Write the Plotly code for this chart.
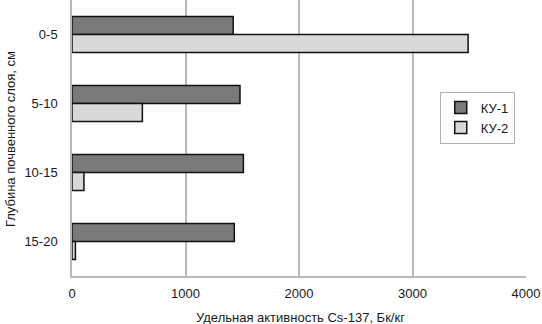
import plotly.graph_objects as go

depths = ["0-5", "5-10", "10-15", "15-20"]
ku1 = [1420, 1480, 1510, 1430]
ku2 = [3490, 620, 105, 30]
series_names = ["КУ-1", "КУ-2"]
x_ticks = [0, 1000, 2000, 3000, 4000]
x_title = "Удельная активность Cs-137, Бк/кг"
y_title = "Глубина почвенного слоя, см"

fig = go.Figure()
fig.add_trace(go.Bar(y=depths, x=ku1, name=series_names[0], orientation="h",
                     marker=dict(color="#7a7a7a", line=dict(color="#111111", width=1.5))))
fig.add_trace(go.Bar(y=depths, x=ku2, name=series_names[1], orientation="h",
                     marker=dict(color="#d9d9d9", line=dict(color="#111111", width=1.5))))

font = "Liberation Sans, Arial, sans-serif"
fig.update_layout(
    width=542, height=324,
    margin=dict(l=72, r=16, t=0, b=48, autoexpand=False),
    paper_bgcolor="white", plot_bgcolor="white",
    barmode="group", bargap=0.48, bargroupgap=0,
    font=dict(family=font, size=13, color="#1a1a1a"),
    legend=dict(x=0.81, y=0.668, xanchor="left", yanchor="top",
                bordercolor="#b0b0b0", borderwidth=1, bgcolor="white",
                traceorder="normal", font=dict(size=13, color="#1a1a1a"),
                itemwidth=30, tracegroupgap=0),
    showlegend=True,
    annotations=[
        dict(text=x_title, xref="paper", yref="paper", x=0.504, y=-0.152,
             xanchor="center", yanchor="middle", showarrow=False,
             font=dict(size=13, color="#1a1a1a")),
        dict(text=y_title, xref="paper", yref="paper", x=-0.1366, y=0.496,
             xanchor="center", yanchor="middle", showarrow=False, textangle=-90,
             font=dict(size=13, color="#1a1a1a")),
    ],
)
fig.update_xaxes(range=[0, 4000], tickvals=x_ticks, showgrid=True,
                 gridcolor="#b8b8b8", gridwidth=1.5, zeroline=False,
                 showline=True, linecolor="#b8b8b8", linewidth=1.5,
                 ticks="", ticklabelstandoff=5, automargin=False)
fig.update_yaxes(autorange="reversed", showgrid=False, zeroline=False,
                 showline=True, linecolor="#b8b8b8", linewidth=1.5,
                 ticks="", ticklabelstandoff=10, automargin=False)

fig.write_html("out.html", config={"displayModeBar": False},
               post_script="document.body.style.margin='0';document.body.style.padding='0';")
